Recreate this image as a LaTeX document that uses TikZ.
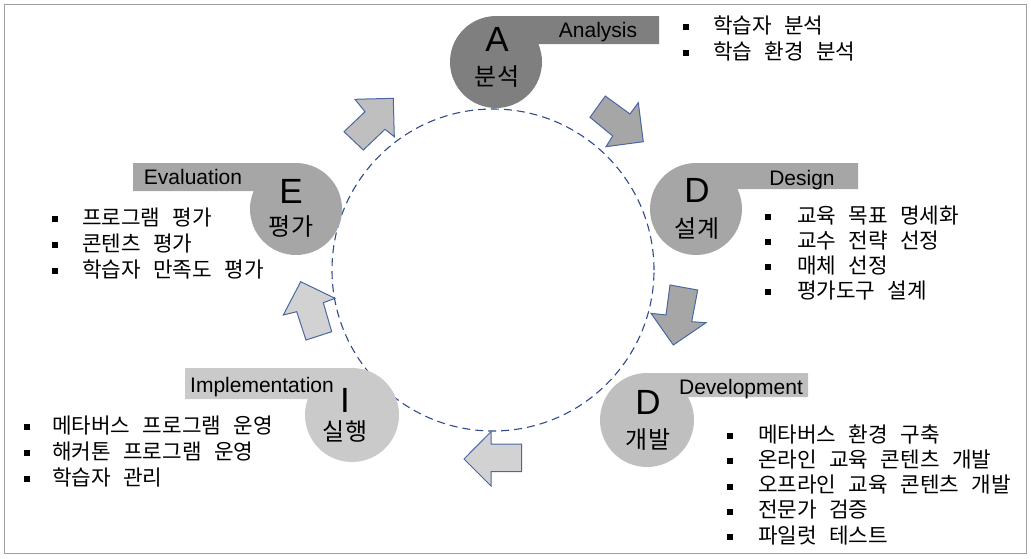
\documentclass[tikz,border=0pt]{standalone}
\usepackage{fontspec}
\setmainfont{Liberation Sans}
\newfontfamily\krfont[WordSpace=2.6]{Noto Sans CJK KR}

\definecolor{cA}{HTML}{7F7F7F}
\definecolor{cDs}{HTML}{A6A6A6}
\definecolor{cDv}{HTML}{BFBFBF}
\definecolor{cI}{HTML}{CACACA}
\definecolor{cE}{HTML}{A6A6A6}
\definecolor{arrline}{HTML}{4A67A3}
\definecolor{circline}{HTML}{2F4B8C}
\definecolor{framecol}{HTML}{A0A0A0}

\tikzset{
  lbl/.style={font=\fontsize{21}{21}\selectfont, inner sep=0pt, text height=15pt, text depth=0pt},
  big/.style={font=\fontsize{35}{35}\selectfont, inner sep=0pt, text height=25pt, text depth=0pt},
  krc/.style={font=\krfont\fontsize{24}{24}\selectfont, inner sep=0pt, text height=21pt, text depth=3pt},
  item/.style={font=\krfont\fontsize{21.3}{21.3}\selectfont, inner sep=0pt, text height=18.7pt, text depth=2.6pt, anchor=west},
  bul/.style={fill=black, minimum size=6pt, inner sep=0pt},
  blk/.style={draw=arrline, line width=1pt, line join=miter},
  ring/.style={draw=circline, dash pattern=on 8pt off 5pt, line width=1.1pt},
}

\newcommand\rtabshape[6]{%
  \pgfmathsetmacro\tsal{asin((#6-#3)/#4)}%
  \pgfmathsetmacro\tsx{#2+#4*cos(\tsal)}%
  \fill[#1] (#2,#3-#4) -- (#5,#3-#4) -- (#5,#6) -- (\tsx,#6)
     arc[start angle=\tsal, end angle=270, radius=#4] -- cycle;}
\newcommand\ltabshape[6]{%
  \pgfmathsetmacro\tsal{asin((#6-#3)/#4)}%
  \pgfmathsetmacro\tsb{180-(\tsal)}%
  \pgfmathsetmacro\tsx{#2-#4*cos(\tsal)}%
  \fill[#1] (#2,#3-#4) -- (#5,#3-#4) -- (#5,#6) -- (\tsx,#6)
     arc[start angle=\tsb, end angle=-90, radius=#4] -- cycle;}

\begin{document}
\begin{tikzpicture}[x=1pt,y=-1pt]
\useasboundingbox (0,0) rectangle (1031,558);
\draw[framecol, line width=1.5pt] (4.5,4.5) rectangle (1026.5,553.5);

% dashed cycle
\node[circle, ring, minimum size=322pt, inner sep=0pt] (cyc) at (493,270) {};

% phase shapes
\rtabshape{cA}{496}{62}{46}{659}{44}
\rtabshape{cDs}{696}{209}{46}{858}{189}
\rtabshape{cDv}{647}{420}{47}{808}{397}
\ltabshape{cI}{352}{415}{47}{185}{399}
\ltabshape{cE}{296}{209}{46}{133}{191}

% phase texts
\node[big] (aL) at (497,39) {A};
\node[krc] (aK) at (497,76) {\krfont 분석};
\node[lbl] (aT) at (598,30) {Analysis};

\node[big] (dsL) at (697,190) {D};
\node[krc] (dsK) at (697,228) {\krfont 설계};
\node[lbl] (dsT) at (802,178) {Design};

\node[big] (dvL) at (648,402) {D};
\node[krc] (dvK) at (648,439) {\krfont 개발};
\node[lbl] (dvT) at (741,387) {Development};

\node[big] (iL) at (345,400) {I};
\node[krc] (iK) at (345,431) {\krfont 실행};
\node[lbl] (iT) at (262,385) {Implementation};

\node[big] (eL) at (291,191) {E};
\node[krc] (eK) at (291,226) {\krfont 평가};
\node[lbl] (eT) at (193,177) {Evaluation};

% block arrows
\filldraw[blk, fill=cDv] (393.3,98.3) -- (394.3,136.7) -- (385,129.3) -- (363.3,150) -- (344,131.7) -- (365,111.7) -- (355,99.3) -- cycle;
\filldraw[blk, fill=cDs] (643.3,141.7) -- (606,146.7) -- (612.7,136) -- (590,117.3) -- (605.3,96) -- (630,114) -- (638.3,102.7) -- cycle;
\filldraw[blk, fill=cDs] (673.3,345) -- (651,313.3) -- (666,315) -- (670,285) -- (697.7,290) -- (691.7,321.7) -- (706,322.7) -- cycle;
\filldraw[blk, fill=cI!85!white] (464,459) -- (491,431.7) -- (491,444) -- (521.7,444) -- (521.7,471.7) -- (491,471.7) -- (491,486) -- cycle;
\filldraw[blk, fill=cI!85!white] (300.7,281.7) -- (335,298.3) -- (323.3,302.7) -- (331.7,331.7) -- (306,340) -- (296.7,311.7) -- (283.3,315) -- cycle;

% lists
\foreach \t [count=\i] in {학습자 분석, 학습 환경 분석}{
  \node[bul] (ab\i) at (686,{25+(\i-1)*26+2}) {};
  \node[item] (ai\i) at (713,{25+(\i-1)*26}) {\t};
}
\foreach \t [count=\i] in {교육 목표 명세화, 교수 전략 선정, 매체 선정, 평가도구 설계}{
  \node[bul] (dsb\i) at (768,{215+(\i-1)*25+2}) {};
  \node[item] (dsi\i) at (797,{215+(\i-1)*25}) {\t};
}
\foreach \t [count=\i] in {메타버스 환경 구축, 온라인 교육 콘텐츠 개발, 오프라인 교육 콘텐츠 개발, 전문가 검증, 파일럿 테스트}{
  \node[bul] (dvb\i) at (730,{434+(\i-1)*25.3+2}) {};
  \node[item] (dvi\i) at (758,{434+(\i-1)*25.3}) {\t};
}
\foreach \t [count=\i] in {메타버스 프로그램 운영, 해커톤 프로그램 운영, 학습자 관리}{
  \node[bul] (ib\i) at (27,{425+(\i-1)*26+2}) {};
  \node[item] (ii\i) at (52,{425+(\i-1)*26}) {\t};
}
\foreach \t [count=\i] in {프로그램 평가, 콘텐츠 평가, 학습자 만족도 평가}{
  \node[bul] (eb\i) at (55,{217+(\i-1)*26+2}) {};
  \node[item] (ei\i) at (82,{217+(\i-1)*26}) {\t};
}
\end{tikzpicture}
\end{document}
